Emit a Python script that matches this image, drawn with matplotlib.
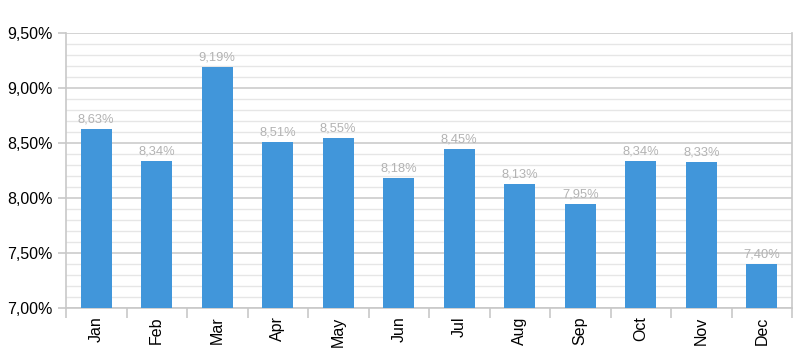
import numpy as np
import matplotlib.pyplot as plt
from matplotlib.ticker import MultipleLocator, FuncFormatter

months = ['Jan', 'Feb', 'Mar', 'Apr', 'May', 'Jun', 'Jul', 'Aug', 'Sep', 'Oct', 'Nov', 'Dec']
rates = [8.63, 8.34, 9.19, 8.51, 8.55, 8.18, 8.45, 8.13, 7.95, 8.34, 8.33, 7.40]

plt.rcParams['font.family'] = ['Liberation Sans', 'DejaVu Sans']

fig = plt.figure(figsize=(8, 3.6), dpi=100)
ax = fig.add_axes([66 / 800, 1 - 308 / 360, (792 - 66) / 800, (308 - 33) / 360])

x = np.arange(len(months))
ax.bar(x, np.array(rates) - 7.0, bottom=7.0, width=0.52, color='#4196da', zorder=3)

for xi, v in zip(x, rates):
    ax.text(xi, v + 0.03, f'{v:.2f}%'.replace('.', ','), ha='center', va='bottom',
            fontsize=9.3, color='#b3b3b3', zorder=4)

ax.set_xlim(-0.5, len(months) - 0.5)
ax.set_ylim(7.0, 9.5)
ax.yaxis.set_major_locator(MultipleLocator(0.5))
ax.yaxis.set_minor_locator(MultipleLocator(0.1))
ax.yaxis.set_major_formatter(FuncFormatter(lambda v, p: f'{v:.2f}%'.replace('.', ',')))
ax.grid(axis='y', which='major', color='#cccccc', linewidth=1.2, zorder=0)
ax.grid(axis='y', which='minor', color='#e6e6e6', linewidth=1, zorder=0)

ax.set_xticks(x)
ax.set_xticklabels(months, rotation=90, fontsize=11.5)
ax.set_xticks(np.arange(len(months) + 1) - 0.5, minor=True)
ax.tick_params(axis='x', which='major', length=0, pad=6)
ax.tick_params(axis='x', which='minor', length=7, color='#c8c8c8', width=1.2)
ax.tick_params(axis='y', which='major', length=6, color='#c8c8c8', width=1.2, labelsize=11.5)
ax.tick_params(axis='y', which='minor', length=0)

for side in ['left', 'right', 'bottom']:
    ax.spines[side].set_color('#c8c8c8')
    ax.spines[side].set_linewidth(1.2)
ax.spines['top'].set_visible(False)

fig.savefig('out.png', dpi=100)
